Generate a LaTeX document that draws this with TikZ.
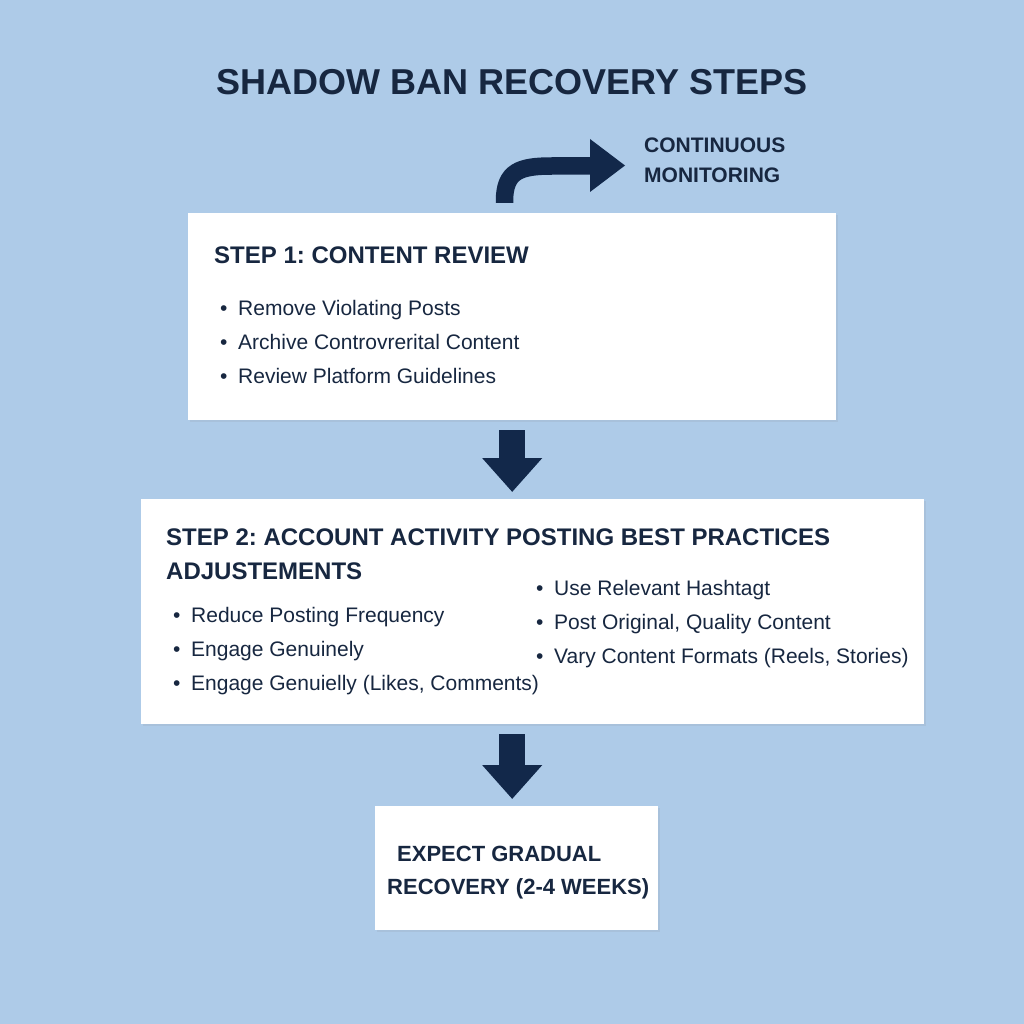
\documentclass[tikz,border=0pt]{standalone}
\usepackage{fontspec}
\setmainfont{Liberation Sans}
\usetikzlibrary{arrows.meta,shadows,calc}
\definecolor{bgblue}{HTML}{AECBE8}
\definecolor{navy}{HTML}{172740}
\definecolor{arrownavy}{HTML}{12284A}
\tikzset{
  box/.style={fill=white, draw=none, inner sep=0pt, anchor=north west,
    drop shadow={opacity=0.12, shadow xshift=1.5pt, shadow yshift=-1.5pt}},
  txt/.style={inner sep=0pt, anchor=base west, text=navy},
  head/.style={txt, font=\fontsize{24}{28}\selectfont\bfseries},
  item/.style={txt, font=\fontsize{21}{25}\selectfont},
  bigarrow/.style={draw=arrownavy, line width=26pt,
    -{Triangle[length=34pt,width=58pt]}, shorten <=10pt, shorten >=7pt},
}
\newcommand{\bul}{\makebox[18pt][l]{•}}
\frenchspacing
\begin{document}
\begin{tikzpicture}[x=1pt,y=-1pt]
\fill[bgblue] (0,0) rectangle (1024,1024);
\useasboundingbox (0,0) rectangle (1024,1024);

% title
\node[inner sep=0pt, anchor=base, text=navy, font=\fontsize{36}{40}\selectfont\bfseries] (title) at (512,95) {SHADOW BAN RECOVERY STEPS};

% boxes
\node[box, minimum width=648pt, minimum height=207pt] (box1) at (188,213) {};
\node[box, minimum width=783pt, minimum height=225pt] (box2) at (141,499) {};
\node[box, minimum width=283pt, minimum height=124pt] (box3) at (375,806) {};

% curved arrow (continuous monitoring)
\coordinate (cstart) at ($(box1.north west)+(316.5,-10)$);
\coordinate (cend) at (592,166);
\draw[arrownavy, line width=17.5pt] (cstart) -- ++(0,-2) .. controls +(0,-30) and +(-32,0) .. (552,166) -- (cend);
\fill[arrownavy] (590,139) -- (625,165.5) -- (590,192) -- cycle;
\node[txt, font=\fontsize{21}{25}\selectfont\bfseries] (cm1) at (644,153) {CONTINUOUS};
\node[txt, font=\fontsize{21}{25}\selectfont\bfseries] (cm2) at (644,183) {MONITORING};

% step 1
\node[head] (s1h) at (214,263.5) {STEP 1: CONTENT REVIEW};
\node[item] (s1a) at (220,315.5) {\bul Remove Violating Posts};
\node[item] (s1b) at (220,349.5) {\bul Archive Controvrerital Content};
\node[item] (s1c) at (220,383.5) {\bul Review Platform Guidelines};

% step 2
\node[head] (s2h1) at (166,545.5) {STEP 2: ACCOUNT ACTIVITY POSTING BEST PRACTICES};
\node[head] (s2h2) at (166,579.5) {ADJUSTEMENTS};
\node[item] (s2a) at (173,622.5) {\bul Reduce Posting Frequency};
\node[item] (s2b) at (173,656.5) {\bul Engage Genuinely};
\node[item] (s2c) at (173,690.5) {\bul Engage Genuielly (Likes, Comments)};
\node[item] (s2d) at (536,595.5) {\bul Use Relevant Hashtagt};
\node[item] (s2e) at (536,629.5) {\bul Post Original, Quality Content};
\node[item] (s2f) at (536,663.5) {\bul Vary Content Formats (Reels, Stories)};

% step 3
\node[txt, font=\fontsize{22}{26}\selectfont\bfseries] (s3a) at (397,861) {EXPECT GRADUAL};
\node[txt, font=\fontsize{22}{26}\selectfont\bfseries] (s3b) at (387,894) {RECOVERY (2-4 WEEKS)};

% down arrows
\draw[bigarrow] (box1.south) -- (box1.south |- box2.north);
\draw[bigarrow] (box1.south |- box2.south) -- (box1.south |- box3.north);
\end{tikzpicture}
\end{document}
